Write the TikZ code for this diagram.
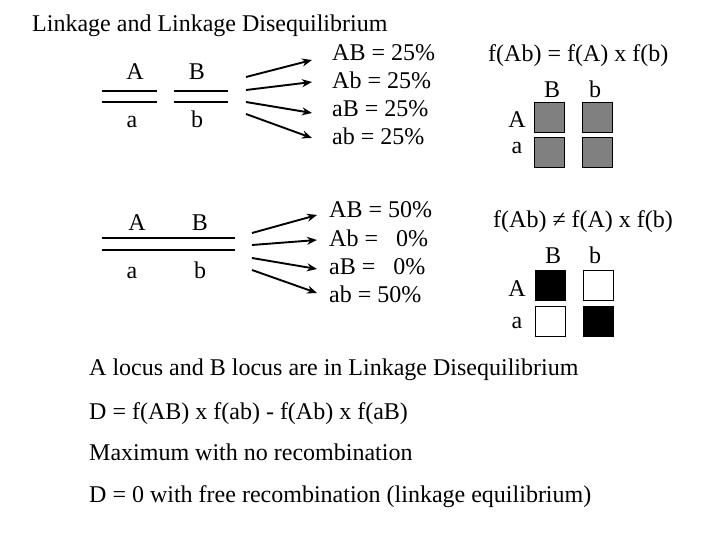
\documentclass[tikz,border=0pt]{standalone}
\usepackage{fontspec}
\setmainfont{Liberation Serif}
\usetikzlibrary{arrows.meta}
\begin{document}
\begin{tikzpicture}[x=1pt,y=-1pt,
  txt/.style={anchor=base west,inner sep=0pt,font=\fontsize{24}{28}\selectfont},
  lbl/.style={anchor=base,inner sep=0pt,font=\fontsize{24}{28}\selectfont},
  lblr/.style={anchor=base east,inner sep=0pt,font=\fontsize{24}{28}\selectfont},
  chrom/.style={line width=1.2pt},
  arr/.style={line width=1.9pt,-{Stealth[length=10pt,width=8pt]}},
  sq/.style={draw=black,line width=0.9pt,minimum width=30pt,minimum height=30pt,inner sep=0pt},
  graysq/.style={sq,fill=gray},
  blacksq/.style={sq,fill=black},
  whitesq/.style={sq,fill=white}]
\useasboundingbox (0,0) rectangle (720,540);
\node[txt] (title) at (32,32) {Linkage and Linkage Disequilibrium};
% top-left: unlinked-looking pair
\node[lbl] (A1) at (135,80) {A};
\node[lbl] (B1) at (197,80) {B};
\node[lbl] (a1) at (132,128) {a};
\node[lbl] (b1) at (197,128) {b};
\coordinate (l1a) at (102,91); \coordinate (l1b) at (157,91);
\coordinate (l2a) at (102,102); \coordinate (l2b) at (157,102);
\coordinate (l3a) at (174,91); \coordinate (l3b) at (228,91);
\coordinate (l4a) at (174,102); \coordinate (l4b) at (228,102);
\draw[chrom] (l1a) -- (l1b);
\draw[chrom] (l2a) -- (l2b);
\draw[chrom] (l3a) -- (l3b);
\draw[chrom] (l4a) -- (l4b);
\node[txt] (t1) at (332,61) {AB = 25\%};
\node[txt] (t2) at (332,89) {Ab = 25\%};
\node[txt] (t3) at (332,117) {aB = 25\%};
\node[txt] (t4) at (332,145) {ab = 25\%};
\coordinate (s1) at (246,77); \coordinate (e1) at (312,60);
\coordinate (s2) at (246,90); \coordinate (e2) at (312,82);
\coordinate (s3) at (246,102); \coordinate (e3) at (312,113);
\coordinate (s4) at (246,114); \coordinate (e4) at (312,138);
\draw[arr] (s1) -- (e1);
\draw[arr] (s2) -- (e2);
\draw[arr] (s3) -- (e3);
\draw[arr] (s4) -- (e4);
% middle-left: linked pair
\node[lbl] (A2) at (137,230) {A};
\node[lbl] (B2) at (200,230) {B};
\node[lbl] (a2) at (132,278) {a};
\node[lbl] (b2) at (200,278) {b};
\coordinate (m1a) at (102,238); \coordinate (m1b) at (235,238);
\coordinate (m2a) at (102,250); \coordinate (m2b) at (235,250);
\draw[chrom] (m1a) -- (m1b);
\draw[chrom] (m2a) -- (m2b);
\node[txt] (u1) at (329,218) {AB = 50\%};
\node[txt] (u2) at (329,246) {Ab = \phantom{5}0\%};
\node[txt] (u3) at (329,274) {aB = \phantom{5}0\%};
\node[txt] (u4) at (329,302) {ab = 50\%};
\coordinate (p1) at (252,233); \coordinate (q1) at (317,215);
\coordinate (p2) at (252,245); \coordinate (q2) at (317,240);
\coordinate (p3) at (252,258); \coordinate (q3) at (317,269);
\coordinate (p4) at (252,270); \coordinate (q4) at (317,293);
\draw[arr] (p1) -- (q1);
\draw[arr] (p2) -- (q2);
\draw[arr] (p3) -- (q3);
\draw[arr] (p4) -- (q4);
% right upper
\node[txt] (f1) at (488,62) {f(Ab) = f(A) x f(b)};
\node[lbl] (gB1) at (552,98) {B};
\node[lbl] (gb1) at (595,98) {b};
\node[lblr] (gA1) at (526,128) {A};
\node[lbl] (ga1) at (517,154) {a};
\node[graysq] (g11) at (549,117) {};
\node[graysq] (g12) at (597,117) {};
\node[graysq] (g21) at (549,152.5) {};
\node[graysq] (g22) at (597,152.5) {};
% right lower
\node[txt] (f2) at (493,227) {f(Ab) ≠ f(A) x f(b)};
\node[lbl] (hB1) at (553,263) {B};
\node[lbl] (hb1) at (595,263) {b};
\node[lblr] (hA1) at (526,296) {A};
\node[lbl] (ha1) at (517,328) {a};
\node[blacksq] (h11) at (550,285) {};
\node[whitesq] (h12) at (598,285) {};
\node[whitesq] (h21) at (550,321.5) {};
\node[blacksq] (h22) at (598,321.5) {};
% bottom text
\node[txt] (c1) at (89,375) {A locus and B locus are in Linkage Disequilibrium};
\node[txt] (c2) at (89,419) {D = f(AB) x f(ab) - f(Ab) x f(aB)};
\node[txt] (c3) at (89,460) {Maximum with no recombination};
\node[txt] (c4) at (89,502) {D = 0 with free recombination (linkage equilibrium)};
\end{tikzpicture}
\end{document}
